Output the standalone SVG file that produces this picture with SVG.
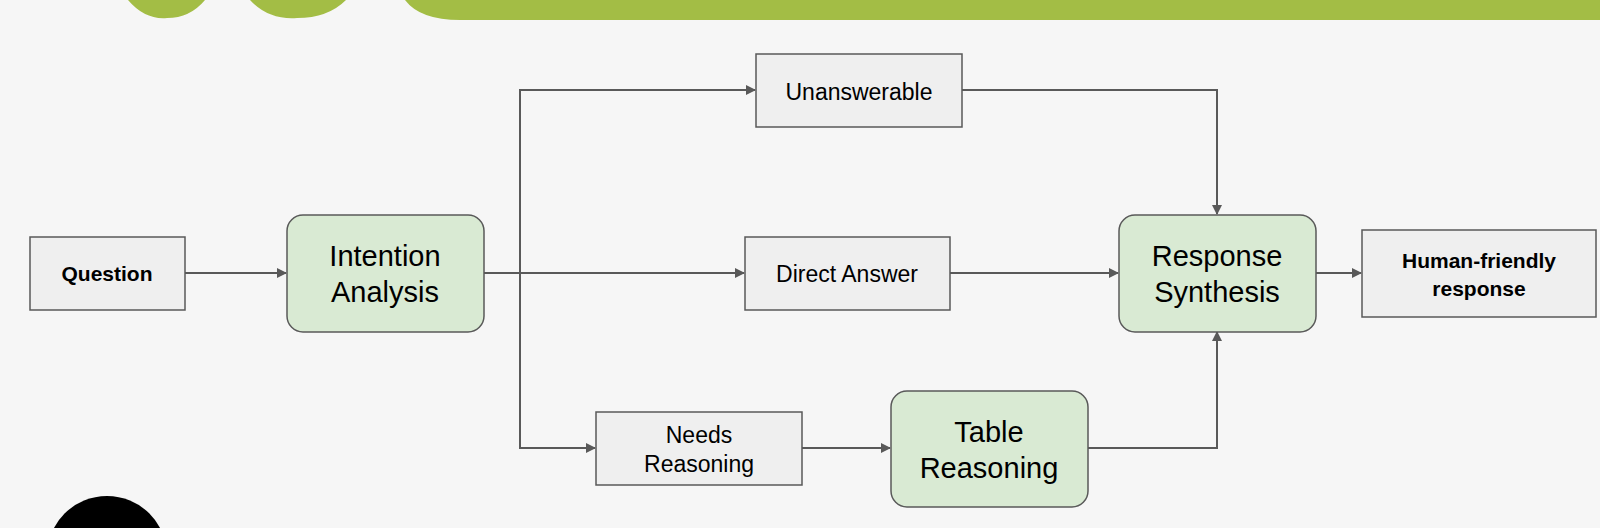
<svg xmlns="http://www.w3.org/2000/svg" width="1600" height="528" viewBox="0 0 1600 528">
<defs>
<style>
.box{fill:#efefef;stroke:#595959;stroke-width:1.5}
.grn{fill:#d9ead3;stroke:#595959;stroke-width:1.5}
.t{font-family:"Liberation Sans",Arial,sans-serif;fill:#000;text-anchor:middle}
.c{fill:none;stroke:#595959;stroke-width:2}
</style>
<marker id="a" markerWidth="10" markerHeight="10" refX="9" refY="5" orient="auto" markerUnits="userSpaceOnUse"><path d="M0,0L10,5L0,10z" fill="#595959"/></marker>
</defs>
<rect width="1600" height="528" fill="#f6f6f6"/>
<g id="decor" fill="#a3bd45">
<path d="M128,0 Q145,20 167,18 Q190,18 205,0z"/>
<path d="M250,0 Q268,20 297,18 Q328,18 346,0z"/>
<path d="M405,0 Q420,20 460,20 L1600,20 L1600,0z"/>
<circle cx="107" cy="556" r="60" fill="#000"/>
</g>
<g id="connectors">
<path class="c" d="M185,273H286" marker-end="url(#a)"/>
<path class="c" d="M484,273H744" marker-end="url(#a)"/>
<path class="c" d="M520,273V90H755" marker-end="url(#a)"/>
<path class="c" d="M520,273V448H595" marker-end="url(#a)"/>
<path class="c" d="M950,273H1118" marker-end="url(#a)"/>
<path class="c" d="M962,90H1217V214" marker-end="url(#a)"/>
<path class="c" d="M802,448H890" marker-end="url(#a)"/>
<path class="c" d="M1088,448H1217V332" marker-end="url(#a)"/>
<path class="c" d="M1316,273H1361" marker-end="url(#a)"/>
</g>
<g id="question"><rect class="box" x="30" y="237" width="155" height="73"/><text class="t" x="107" y="281" font-size="21" font-weight="bold">Question</text></g>
<g id="intention"><rect class="grn" x="287" y="215" width="197" height="117" rx="16"/><text class="t" x="385" y="266" font-size="29">Intention</text><text class="t" x="385" y="302" font-size="29">Analysis</text></g>
<g id="unanswerable"><rect class="box" x="756" y="54" width="206" height="73"/><text class="t" x="859" y="100" font-size="23">Unanswerable</text></g>
<g id="direct"><rect class="box" x="745" y="237" width="205" height="73"/><text class="t" x="847" y="282" font-size="23">Direct Answer</text></g>
<g id="needs"><rect class="box" x="596" y="412" width="206" height="73"/><text class="t" x="699" y="443" font-size="23">Needs</text><text class="t" x="699" y="472" font-size="23">Reasoning</text></g>
<g id="table"><rect class="grn" x="891" y="391" width="197" height="116" rx="16"/><text class="t" x="989" y="442" font-size="29">Table</text><text class="t" x="989" y="478" font-size="29">Reasoning</text></g>
<g id="synthesis"><rect class="grn" x="1119" y="215" width="197" height="117" rx="16"/><text class="t" x="1217" y="266" font-size="29">Response</text><text class="t" x="1217" y="302" font-size="29">Synthesis</text></g>
<g id="human"><rect class="box" x="1362" y="230" width="234" height="87"/><text class="t" x="1479" y="268" font-size="21" font-weight="bold">Human-friendly</text><text class="t" x="1479" y="296" font-size="21" font-weight="bold">response</text></g>
</svg>
